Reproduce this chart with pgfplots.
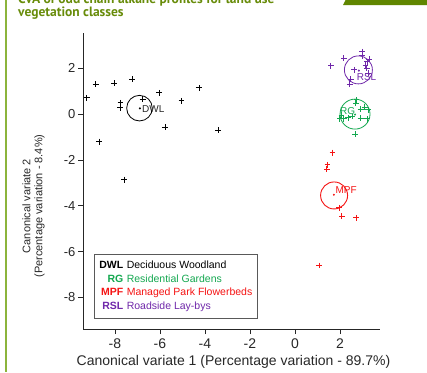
\documentclass[border=0pt]{standalone}
\usepackage{fontspec}
\setmainfont{Liberation Sans}
\newfontfamily\titlefont{PT Sans}
\usepackage{pgfplots}
\pgfplotsset{compat=1.18}
\definecolor{titleg}{RGB}{104,140,10}
\definecolor{tabg}{RGB}{96,134,0}
\definecolor{lineg}{RGB}{140,180,60}
\definecolor{cRG}{RGB}{20,168,80}
\definecolor{cMPF}{RGB}{245,20,20}
\definecolor{cRSL}{RGB}{112,40,170}
\definecolor{txt}{RGB}{40,40,40}
\begin{document}
\begin{tikzpicture}
\useasboundingbox (0pt,0pt) rectangle (427pt,-372pt);
\fill[white] (0pt,0pt) rectangle (427pt,-372pt);
\draw[lineg, line width=1.6pt] (6pt,0pt) -- (6pt,-372pt);
\fill[tabg] (343pt,-5pt) -- (345.5pt,0pt) -- (427pt,0pt) -- (427pt,-5pt) -- cycle;
\node[anchor=base west, font=\titlefont\bfseries\fontsize{13.5}{13.5}\selectfont, text=titleg, inner sep=0pt] at (18pt,-4pt) {CVA of odd chain alkane profiles for land use};
\node[anchor=base west, font=\titlefont\bfseries\fontsize{13.5}{13.5}\selectfont, text=titleg, inner sep=0pt] at (18pt,-16.5pt) {vegetation classes};
\begin{axis}[
  at={(83pt,-329pt)}, anchor=south west,
  scale only axis, width=297pt, height=296pt,
  xmin=-9.42, xmax=3.78, ymin=-9.38, ymax=3.54,
  axis x line*=bottom, axis y line*=left,
  axis line style={line width=0.8pt, black!85},
  tick style={line width=0.8pt, black!85},
  tick align=outside, major tick length=5pt,
  xtick={-8,-6,-4,-2,0,2}, xticklabels={-8,-6,-4,-2,0,2},
  ytick={-8,-6,-4,-2,0,2}, yticklabels={-8,-6,-4,-2,0,2},
  x tick label style={font=\fontsize{14}{14}\selectfont, text=txt, yshift=-1pt},
  y tick label style={font=\fontsize{13}{13}\selectfont, text=txt, xshift=1pt},
  clip=false,
]
% DWL
\addplot[only marks, mark=+, mark size=2.9pt, mark options={line width=0.7pt, black}] coordinates {
(-9.26,0.71) (-8.86,1.30) (-8.03,1.35) (-7.24,1.53) (-7.75,0.50) (-7.78,0.28)
(-6.77,0.66) (-6.03,0.93) (-5.04,0.58) (-4.27,1.15) (-5.78,-0.58) (-3.42,-0.70)
(-8.70,-1.20) (-7.60,-2.86)};
% RG
\addplot[only marks, mark=+, mark size=2.9pt, mark options={line width=1pt, cRG}] coordinates {
(2.74,0.62) (2.71,0.47) (2.92,0.22) (3.26,0.18) (3.10,0.30) (2.00,-0.21) (2.18,-0.21)
(2.37,-0.16) (2.55,-0.10) (2.92,-0.18) (3.21,-0.20) (2.67,-0.88) (2.07,-0.04)};
% MPF
\addplot[only marks, mark=+, mark size=2.9pt, mark options={line width=1pt, cMPF}] coordinates {
(1.67,-1.68) (1.45,-2.21) (1.41,-2.41) (1.96,-4.09) (2.09,-4.46) (2.72,-4.53) (1.08,-6.61)};
% RSL
\addplot[only marks, mark=+, mark size=2.9pt, mark options={line width=1pt, cRSL}] coordinates {
(1.60,2.11) (2.18,2.44) (2.99,2.72) (2.99,2.55) (3.30,2.40) (3.21,2.29) (3.14,2.14)
(3.19,2.00) (2.64,1.93) (2.49,1.52) (2.44,1.30) (3.26,1.78)};
% centroids: circles
\addplot[only marks, mark=o, mark size=12.8pt, mark options={line width=0.8pt, black}] coordinates {(-6.91,0.26)};
\addplot[only marks, mark=o, mark size=15pt, mark options={line width=0.8pt, cRG}] coordinates {(2.67,0.0)};
\addplot[only marks, mark=o, mark size=13.5pt, mark options={line width=0.9pt, cMPF}] coordinates {(1.74,-3.55)};
\addplot[only marks, mark=o, mark size=14pt, mark options={line width=0.8pt, cRSL}] coordinates {(2.82,1.93)};
% centroid dots
\addplot[only marks, mark=*, mark size=0.8pt, black] coordinates {(-6.89,0.25)};
\addplot[only marks, mark=*, mark size=0.8pt, cRG] coordinates {(2.67,-0.02)};
\addplot[only marks, mark=*, mark size=0.8pt, cMPF] coordinates {(1.73,-3.52)};
\addplot[only marks, mark=*, mark size=0.8pt, cRSL] coordinates {(2.84,1.90)};
\node[anchor=west, inner sep=0pt, font=\fontsize{10}{10}\selectfont, text=txt] at (axis cs:-6.80,0.22) {DWL};
\node[anchor=west, inner sep=0pt, font=\fontsize{10}{10}\selectfont, text=cRSL] at (axis cs:2.74,1.60) {RSL};
\node[anchor=west, inner sep=0pt, font=\fontsize{10}{10}\selectfont, text=cRG] at (axis cs:2.00,0.13) {RG};
\node[anchor=west, inner sep=0pt, font=\fontsize{10}{10}\selectfont, text=cMPF] at (axis cs:1.80,-3.33) {MPF};
\end{axis}
\node[anchor=north west, draw=black!65, line width=0.8pt, fill=white, inner xsep=5pt, inner ysep=4.5pt,
  font=\fontsize{10.5}{13.7}\selectfont] at (94pt,-254pt) {%
\begin{tabular}{@{}r@{\hspace{3.5pt}}l@{}}
\textbf{DWL} & Deciduous Woodland\\
\textcolor{cRG}{\textbf{RG}} & \textcolor{cRG}{Residential Gardens}\\
\textcolor{cMPF}{\textbf{MPF}} & \textcolor{cMPF}{Managed Park Flowerbeds}\\
\textcolor{cRSL}{\textbf{RSL}} & \textcolor{cRSL}{Roadside Lay-bys}
\end{tabular}};
\node[anchor=center, inner sep=0pt, font=\fontsize{14}{14}\selectfont, text=txt] at (233.5pt,-362pt) {Canonical variate 1 (Percentage variation - 89.7\%)};
\node[anchor=center, rotate=90, inner sep=0pt, align=center, font=\fontsize{11}{12}\selectfont, text=txt] at (33.5pt,-206pt) {Canonical variate 2\\(Percentage variation - 8.4\%)};
\end{tikzpicture}
\end{document}
